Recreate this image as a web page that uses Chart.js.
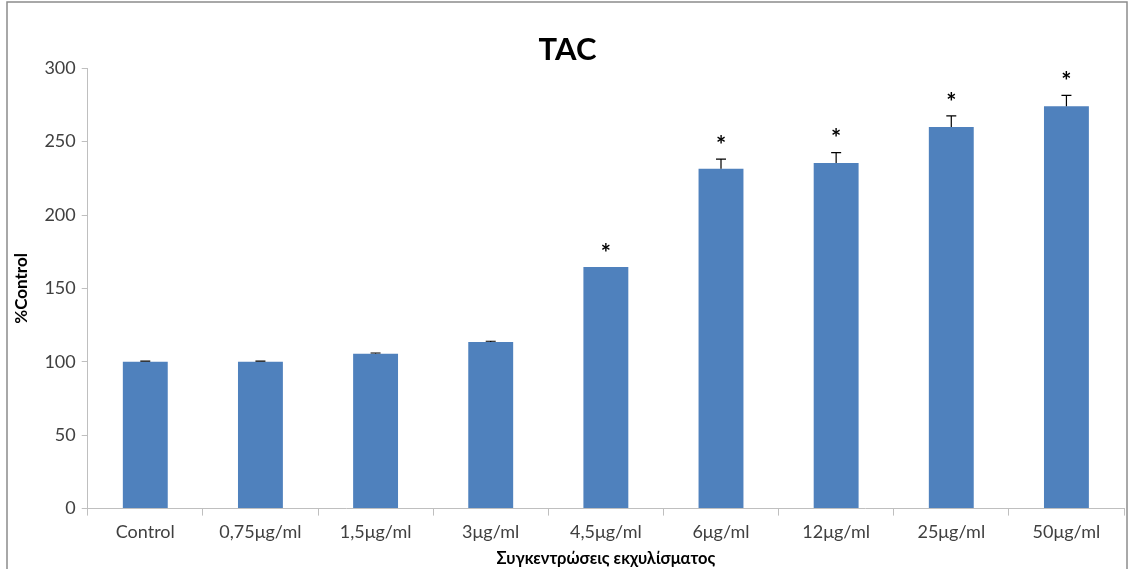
<!DOCTYPE html>
<html>
<head>
<meta charset="utf-8">
<script src="https://cdn.jsdelivr.net/npm/chart.js@4.4.0/dist/chart.umd.min.js"></script>
<style>
  html, body { margin: 0; padding: 0; background: #fff; }
  #wrap { width: 1130px; height: 569px; }
</style>
</head>
<body>
<div id="wrap"><canvas id="tac" width="1130" height="569"></canvas></div>
<script>
// values
var categories = ["Control", "0,75μg/ml", "1,5μg/ml", "3μg/ml", "4,5μg/ml", "6μg/ml", "12μg/ml", "25μg/ml", "50μg/ml"];
var tacValues = [100, 100, 105.5, 113.5, 164.5, 231.5, 235.5, 260, 274];
var tacErrors = [0.5, 0.5, 0.5, 0.5, 0, 6.5, 7, 7.5, 7.5];
var significant = [false, false, false, false, true, true, true, true, true];
var yTicks = [0, 50, 100, 150, 200, 250, 300];

var axisGray = "#bfbfbf";
var textGray = "#404040";
var fontFam = "Lato, 'Open Sans', sans-serif";

// error bars + asterisks, placed through the chart's own scales
var errorBarPlugin = {
  id: "errorBars",
  afterDatasetsDraw: function (chart) {
    var ctx = chart.ctx;
    var meta = chart.getDatasetMeta(0);
    var yScale = chart.scales.y;
    ctx.save();
    meta.data.forEach(function (bar, i) {
      var x = bar.x;
      var top = yScale.getPixelForValue(tacValues[i] + tacErrors[i]);
      var base = yScale.getPixelForValue(tacValues[i]);
      if (tacErrors[i] > 0) {
        ctx.strokeStyle = "#000";
        ctx.lineWidth = 1.2;
        ctx.beginPath();
        ctx.moveTo(x, base);
        ctx.lineTo(x, top);
        ctx.moveTo(x - 5, top);
        ctx.lineTo(x + 5, top);
        ctx.stroke();
      }
      if (significant[i]) {
        ctx.fillStyle = "#000";
        ctx.font = "bold 24px " + fontFam;
        ctx.textAlign = "center";
        ctx.textBaseline = "middle";
        ctx.fillText("*", x, top - 13);
      }
    });
    ctx.restore();
  },
  afterDraw: function (chart) {
    var ctx = chart.ctx;
    ctx.save();
    ctx.strokeStyle = "#8c8c8c";
    ctx.lineWidth = 1.5;
    ctx.strokeRect(7, 2, 1120, 600);
    ctx.restore();
  }
};

new Chart(document.getElementById("tac").getContext("2d"), {
  type: "bar",
  data: {
    labels: categories,
    datasets: [{
      label: "TAC",
      data: tacValues,
      backgroundColor: "#4f81bd",
      borderWidth: 0,
      barPercentage: 0.78,
      categoryPercentage: 0.5
    }]
  },
  options: {
    responsive: false,
    animation: false,
    layout: { padding: { left: 11, right: 6, top: 8, bottom: 0 } },
    plugins: {
      legend: { display: false },
      tooltip: { enabled: false },
      title: {
        display: true,
        text: "TAC",
        color: "#000",
        font: { family: fontFam, size: 31, weight: "bold" },
        padding: { top: 23, bottom: 0 }
      }
    },
    scales: {
      y: {
        min: 0,
        max: 300,
        afterBuildTicks: function (axis) {
          axis.ticks = yTicks.map(function (v) { return { value: v }; });
        },
        grid: { drawOnChartArea: false, drawTicks: true, tickLength: 6, color: axisGray },
        border: { display: true, color: axisGray, width: 1 },
        ticks: { color: textGray, font: { family: fontFam, size: 18 }, padding: 6 },
        title: {
          display: true,
          text: "%Control",
          color: "#000",
          font: { family: fontFam, size: 17, weight: "bold" },
          padding: { top: 0, bottom: 7 }
        }
      },
      x: {
        grid: { drawOnChartArea: false, drawTicks: true, tickLength: 7, color: axisGray, offset: true },
        border: { display: true, color: axisGray, width: 1 },
        ticks: { color: textGray, font: { family: fontFam, size: 18 }, padding: 6, maxRotation: 0 },
        title: {
          display: true,
          text: "Συγκεντρώσεις εκχυλίσματος",
          color: "#000",
          font: { family: fontFam, size: 16.5, weight: "bold" },
          padding: { top: 0, bottom: 0 }
        }
      }
    }
  },
  plugins: [errorBarPlugin]
});
</script>
</body>
</html>
